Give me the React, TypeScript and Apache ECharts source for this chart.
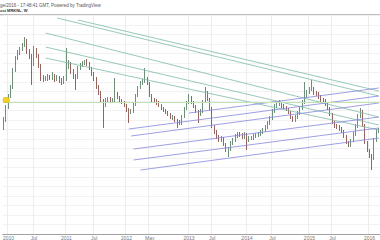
import { useEffect, useRef } from "react";
import * as echarts from "echarts";

// Weekly-ish (bi-weekly) candles, price units arbitrary (axis hidden in reference)
const firstOpen = 108;
const closes = [
  114, 127, 138, 147, 164, 176, 181, 185, 189, 194,
  183, 178, 170, 184, 179, 169, 156, 155, 155, 157,
  156, 159, 155, 156, 154, 152, 155, 168, 171, 163,
  158, 157, 166, 169, 171, 172, 171, 166, 161, 156,
  148, 142, 134, 130, 134, 135, 133, 134, 141, 137,
  134, 132, 129, 125, 122, 123, 130, 139, 147, 151,
  153, 155, 151, 139, 134, 133, 132, 129, 126, 124,
  122, 120, 117, 117, 114, 112, 111, 118, 126, 132,
  137, 132, 128, 123, 120, 123, 133, 142, 135, 126,
  108, 102, 97, 94, 96, 90, 84, 85, 91, 94,
  98, 100, 99, 97, 100, 94, 96, 96, 98, 99,
  100, 102, 104, 107, 111, 116, 123, 128, 130, 131,
  128, 127, 125, 122, 117, 114, 117, 121, 126, 132,
  138, 142, 145, 145, 141, 140, 137, 134, 133, 130,
  126, 120, 112, 108, 107, 105, 103, 98, 92, 89,
  94, 100, 108, 118, 123, 109, 92, 84, 78, 76,
  94, 103, 104,
];
const highs = [
  117, 129, 140, 149, 166, 178, 184, 187, 191, 197,
  195, 185, 180, 188, 186, 180, 170, 159, 158, 160,
  159, 162, 160, 159, 158, 156, 158, 186, 174, 172,
  165, 160, 168, 171, 173, 174, 175, 172, 167, 162,
  157, 149, 143, 135, 136, 137, 137, 136, 156, 142,
  138, 135, 133, 130, 126, 125, 132, 140, 148, 153,
  155, 166, 157, 152, 140, 136, 135, 133, 130, 127,
  125, 123, 121, 119, 118, 115, 114, 119, 127, 133,
  140, 138, 133, 129, 124, 125, 134, 147, 143, 136,
  127, 109, 104, 99, 98, 97, 91, 87, 93, 96,
  100, 102, 102, 101, 102, 101, 98, 98, 100, 101,
  102, 104, 106, 109, 113, 118, 125, 130, 132, 134,
  132, 130, 128, 126, 123, 118, 119, 123, 128, 134,
  152, 144, 147, 154, 147, 143, 142, 139, 136, 135,
  131, 127, 121, 113, 110, 109, 107, 104, 99, 93,
  95, 102, 110, 120, 126, 124, 110, 93, 85, 80,
  96, 105, 106,
];
const lows = [
  104, 112, 125, 136, 145, 162, 174, 179, 183, 187,
  180, 175, 149, 168, 176, 166, 153, 152, 153, 153,
  154, 154, 152, 153, 151, 149, 150, 153, 165, 160,
  155, 144, 155, 164, 167, 169, 168, 164, 158, 153,
  145, 139, 131, 106, 127, 132, 131, 131, 132, 135,
  132, 130, 127, 122, 111, 120, 121, 128, 137, 145,
  149, 151, 149, 137, 132, 131, 129, 127, 124, 122,
  120, 118, 115, 114, 112, 106, 109, 109, 116, 124,
  130, 130, 126, 121, 111, 118, 121, 131, 133, 124,
  106, 100, 95, 92, 92, 88, 82, 77, 83, 89,
  92, 96, 97, 95, 95, 84, 92, 94, 94, 96,
  97, 98, 100, 102, 105, 109, 114, 121, 126, 128,
  126, 125, 123, 120, 115, 112, 112, 115, 119, 124,
  130, 136, 140, 143, 139, 138, 135, 132, 131, 128,
  124, 118, 110, 106, 105, 103, 101, 96, 90, 87,
  87, 92, 98, 106, 116, 107, 90, 82, 76, 64,
  74, 92, 101,
];

// x-axis tick labels and the candle each one sits on
const tickLabels = ["2010", "Jul", "2011", "Jul", "2012", "May", "2013", "Jul", "2014", "Jul", "2015", "Jul", "2016"];
const tickIndex = [2, 13, 27, 39, 53, 63, 80, 90, 105, 116, 132, 142, 158];

// horizontal level and its marker
const levelPrice = 131.5;
const markerPrice = 134;

// trend lines: [startIndex, startPrice, endIndex, endPrice]
const tealLines = [
  [23, 216, 162, 138],
  [32, 214, 162, 143],
  [18, 201, 162, 117],
  [18, 187, 162, 109],
  [18, 176, 162, 104],
];
const blueLines = [
  [80, 121, 162, 146],
  [54, 105, 162, 138],
  [55, 98, 162, 131],
  [56, 85, 162, 117],
  [56, 74, 162, 106],
  [59, 64, 162, 96],
];

const headerLine1 = "ge/2016 - 17:48:41 GMT, Powered by TradingView";
const headerLine2 = "ost MRKNL, W";

export default function App() {
  const ref = useRef<HTMLDivElement>(null);
  useEffect(() => {
    if (!ref.current) return;
    const chart = echarts.init(ref.current, undefined, { renderer: "svg" });
    const start = Date.UTC(2009, 11, 4);
    const categories = closes.map((_, i) =>
      new Date(start + i * 14 * 86400000).toISOString().slice(0, 10)
    );
    const ohlc = closes.map((c, i) => {
      const o = i === 0 ? firstOpen : closes[i - 1];
      return [o, c, Math.min(lows[i], o, c), Math.max(highs[i], o, c)];
    });
    const isTick = (idx: number) => tickIndex.indexOf(idx) >= 0;
    const mkLines = (arr: number[][], color: string) =>
      arr.map((l) => [
        { coord: [l[0], l[1]], lineStyle: { color, width: 0.8, type: "solid" } },
        { coord: [l[2], l[3]] },
      ]);

    chart.setOption({
      animation: false,
      backgroundColor: "#ffffff",
      grid: { left: 0, right: 0, top: 15, bottom: 6 },
      xAxis: {
        type: "category",
        data: categories,
        boundaryGap: true,
        axisLine: { lineStyle: { color: "#a0a0a0", width: 1 } },
        axisTick: { show: false },
        axisLabel: {
          interval: (idx: number) => isTick(idx),
          formatter: (_v: string, idx: number) => {
            const k = tickIndex.indexOf(idx);
            return k >= 0 ? tickLabels[k] : "";
          },
          fontSize: 5,
          color: "#777",
          margin: 1,
          fontFamily: "Arial, Liberation Sans, sans-serif",
        },
        splitLine: {
          show: true,
          interval: (idx: number) => isTick(idx),
          lineStyle: { color: "#ededed", width: 1 },
        },
      },
      yAxis: {
        type: "value",
        min: 0,
        max: 219,
        interval: 9.5,
        axisLine: { show: false },
        axisTick: { show: false },
        axisLabel: { show: false },
        splitLine: { show: true, lineStyle: { color: "#f2f2f2", width: 1 } },
      },
      graphic: [
        {
          type: "rect",
          shape: { x: 0, y: 14, width: 380, height: 1.5 },
          style: { fill: "#bdbdbd" },
          silent: true,
        },
        {
          type: "text",
          x: 0,
          y: 3,
          style: {
            text: headerLine1,
            fontSize: 4.5,
            fill: "#555",
            fontFamily: "Arial, Liberation Sans, sans-serif",
          },
          silent: true,
        },
        {
          type: "text",
          x: 0,
          y: 8.5,
          style: {
            text: headerLine2,
            fontSize: 4,
            fontWeight: "bold",
            fill: "#333",
            fontFamily: "Arial, Liberation Sans, sans-serif",
          },
          silent: true,
        },
      ],
      series: [
        {
          type: "candlestick",
          data: ohlc,
          barWidth: 1.3,
          itemStyle: {
            color: "#6ba583",
            color0: "#d75442",
            borderColor: "#2f5e3e",
            borderColor0: "#6b2219",
            borderWidth: 0.7,
          },
          markLine: {
            silent: true,
            symbol: ["none", "none"],
            label: { show: false },
            data: [
              ...mkLines(tealLines, "#7dbba6"),
              ...mkLines(blueLines, "#8686de"),
              { yAxis: levelPrice, lineStyle: { color: "#bfe6b2", width: 1, type: "solid" } },
            ],
          },
          markPoint: {
            silent: true,
            symbol: "roundRect",
            symbolSize: [6, 5],
            label: { show: false },
            itemStyle: { color: "#f3cf22", borderColor: "#c9a400", borderWidth: 0.5 },
            data: [{ coord: [1, markerPrice] }],
          },
        },
      ],
    });
    return () => chart.dispose();
  }, []);
  return (
    <div
      ref={ref}
      style={{ position: "fixed", left: 0, top: 0, width: 380, height: 240 }}
    />
  );
}
